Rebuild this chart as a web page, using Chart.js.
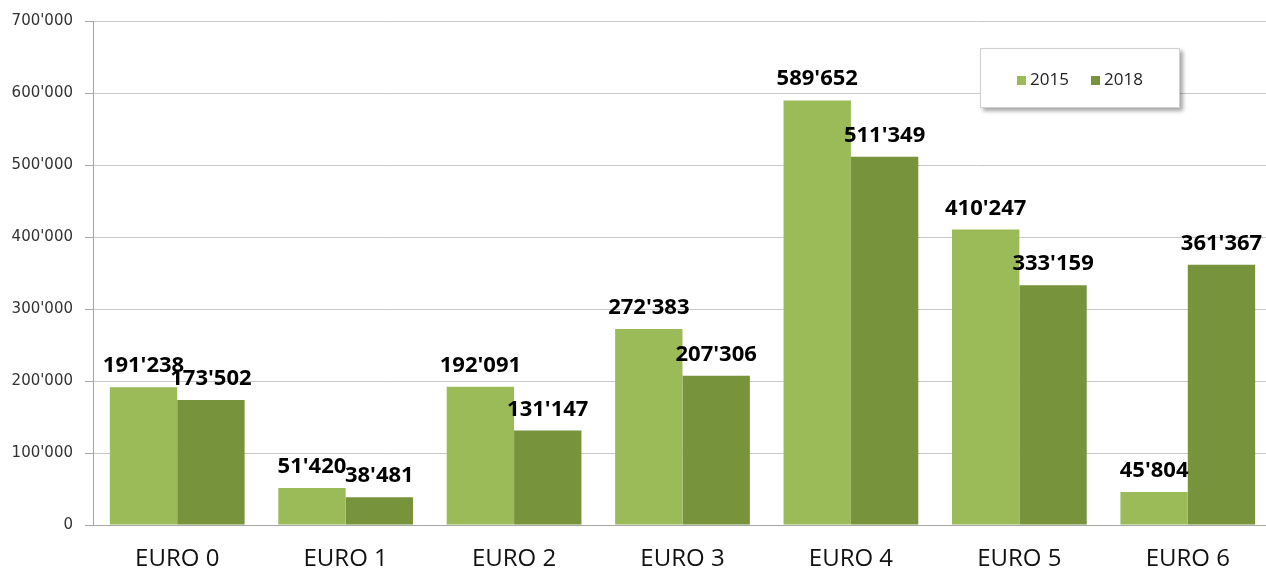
<!DOCTYPE html>
<html lang="en">
<head>
  <meta charset="UTF-8" />
  <title>EURO classes 2015 vs 2018</title>
  <script src="https://cdn.jsdelivr.net/npm/chart.js"></script>
  <style>
    html, body {
      margin: 0;
      padding: 0;
      background: #fff;
      overflow: hidden;
    }

    .wrap {
      position: relative;
      width: 1272px;
      height: 571px;
    }

    .legend {
      position: absolute;
      left: 980px;
      top: 48px;
      width: 198px;
      height: 58px;
      background: #fff;
      border: 1px solid #d0d0d0;
      box-shadow: 3px 3px 4px rgba(0,0,0,0.35);
      display: flex;
      align-items: center;
      justify-content: center;
      gap: 22px;
      font-family: "Open Sans", sans-serif;
      font-size: 17px;
      color: #222;
    }

    .legend span.box {
      display: inline-block;
      width: 9px;
      height: 9px;
      margin-right: 4px;
    }
  </style>
</head>
<body>
  <div class="wrap">
    <canvas id="chart" width="1272" height="571"></canvas>
    <div class="legend">
      <div><span class="box" style="background:#9bbb59"></span>2015</div>
      <div><span class="box" style="background:#77933c"></span>2018</div>
    </div>
  </div>

  <script>
    const categories = ["EURO 0", "EURO 1", "EURO 2", "EURO 3", "EURO 4", "EURO 5", "EURO 6"];
    const values2015 = [191238, 51420, 192091, 272383, 589652, 410247, 45804];
    const values2018 = [173502, 38481, 131147, 207306, 511349, 333159, 361367];

    const fmt = v => String(Math.round(v)).replace(/\B(?=(\d{3})+(?!\d))/g, "'");

    // labels above each bar, like the Excel data labels
    const barLabels = {
      id: "barLabels",
      afterDatasetsDraw(chart) {
        const ctx = chart.ctx;
        ctx.save();
        ctx.font = "bold 22px 'Open Sans', sans-serif";
        ctx.fillStyle = "#000";
        ctx.textAlign = "center";
        ctx.textBaseline = "alphabetic";
        chart.data.datasets.forEach((ds, i) => {
          chart.getDatasetMeta(i).data.forEach((bar, j) => {
            ctx.fillText(fmt(ds.data[j]), bar.x, bar.y - 15);
          });
        });
        ctx.restore();
      }
    };

    new Chart(document.getElementById("chart"), {
      type: "bar",
      data: {
        labels: categories,
        datasets: [
          { label: "2015", data: values2015, backgroundColor: "#9bbb59" },
          { label: "2018", data: values2018, backgroundColor: "#77933c" }
        ]
      },
      options: {
        responsive: false,
        animation: false,
        layout: { padding: { top: 20, right: 0, left: 0, bottom: 0 } },
        datasets: {
          bar: { categoryPercentage: 0.8, barPercentage: 1 }
        },
        plugins: {
          legend: { display: false },
          tooltip: { enabled: false }
        },
        scales: {
          x: {
            grid: { display: false },
            border: { display: true, color: "#a6a6a6" },
            ticks: {
              color: "#111",
              padding: 12,
              font: { family: "'Open Sans', sans-serif", size: 24 }
            },
            afterFit: s => { s.height = 46; }
          },
          y: {
            min: 0,
            max: 700000,
            grid: { color: "#c8c8c8", tickLength: 8, tickColor: "#a6a6a6" },
            border: { display: true, color: "#a6a6a6" },
            ticks: {
              stepSize: 100000,
              padding: 12,
              color: "#333",
              font: { family: "'DejaVu Sans', sans-serif", size: 15 },
              callback: v => fmt(v)
            },
            afterFit: s => { s.width = 93; }
          }
        }
      },
      plugins: [barLabels]
    });
  </script>
</body>
</html>
